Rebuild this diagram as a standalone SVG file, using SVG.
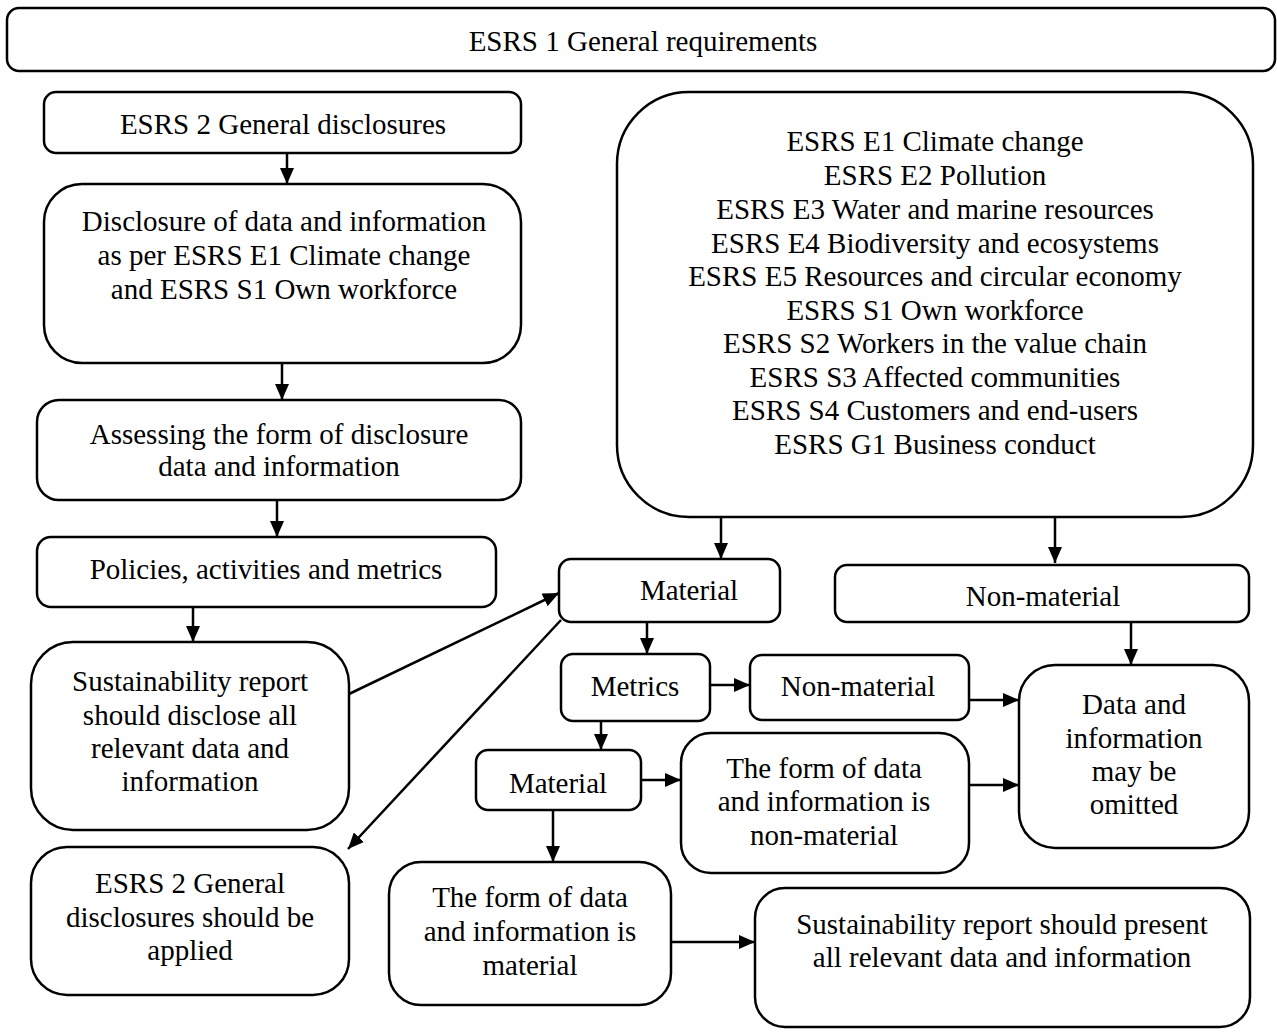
<svg xmlns="http://www.w3.org/2000/svg" width="1277" height="1035" viewBox="0 0 1277 1035">
<defs>
<marker id="ah" viewBox="0 0 16 14" refX="16" refY="7" markerWidth="16" markerHeight="14" markerUnits="userSpaceOnUse" orient="auto">
<path d="M0,0 L16,7 L0,14 Z" fill="#000"/>
</marker>
<style>
.b{fill:#fff;stroke:#000;stroke-width:2.5}
.t{font-size:29px;fill:#000;text-anchor:middle}
.c{stroke:#000;stroke-width:2.5;fill:none;marker-end:url(#ah)}
</style>
</defs>
<rect width="1277" height="1035" fill="#fff"/>
<g font-family="'Liberation Serif', 'Times New Roman', Tinos, 'DejaVu Serif', serif">
<g id="n_esrs1"><rect class="b" x="7" y="8" width="1268" height="63" rx="12"/><text class="t" x="643" y="51">ESRS 1 General requirements</text></g>
<g id="n_esrs2"><rect class="b" x="44" y="92" width="477" height="61" rx="12"/><text class="t" x="283" y="134">ESRS 2 General disclosures</text></g>
<g id="n_disc"><rect class="b" x="44" y="184" width="477" height="179" rx="38"/><text class="t" x="284" y="231">Disclosure of data and information</text><text class="t" x="284" y="265">as per ESRS E1 Climate change</text><text class="t" x="284" y="299">and ESRS S1 Own workforce</text></g>
<g id="n_assess"><rect class="b" x="37" y="400" width="484" height="100" rx="22"/><text class="t" x="279" y="444">Assessing the form of disclosure</text><text class="t" x="279" y="476">data and information</text></g>
<g id="n_policies"><rect class="b" x="37" y="537" width="459" height="70" rx="14"/><text class="t" x="266" y="579">Policies, activities and metrics</text></g>
<g id="n_sust"><rect class="b" x="31" y="642" width="318" height="188" rx="42"/><text class="t" x="190" y="691">Sustainability report</text><text class="t" x="190" y="725">should disclose all</text><text class="t" x="190" y="758">relevant data and</text><text class="t" x="190" y="791">information</text></g>
<g id="n_apply"><rect class="b" x="31" y="847" width="318" height="148" rx="36"/><text class="t" x="190" y="893">ESRS 2 General</text><text class="t" x="190" y="927">disclosures should be</text><text class="t" x="190" y="960">applied</text></g>
<g id="n_topics"><rect class="b" x="617" y="92" width="636" height="425" rx="72"/>
<text class="t" x="935" y="151">ESRS E1 Climate change</text>
<text class="t" x="935" y="185">ESRS E2 Pollution</text>
<text class="t" x="935" y="219">ESRS E3 Water and marine resources</text>
<text class="t" x="935" y="253">ESRS E4 Biodiversity and ecosystems</text>
<text class="t" x="935" y="286">ESRS E5 Resources and circular economy</text>
<text class="t" x="935" y="320">ESRS S1 Own workforce</text>
<text class="t" x="935" y="353">ESRS S2 Workers in the value chain</text>
<text class="t" x="935" y="387">ESRS S3 Affected communities</text>
<text class="t" x="935" y="420">ESRS S4 Customers and end-users</text>
<text class="t" x="935" y="454">ESRS G1 Business conduct</text></g>
<g id="n_material"><rect class="b" x="559" y="559" width="221" height="63" rx="12"/><text class="t" x="689" y="600">Material</text></g>
<g id="n_nonmat"><rect class="b" x="835" y="565" width="414" height="57" rx="12"/><text class="t" x="1043" y="606">Non-material</text></g>
<g id="n_omit"><rect class="b" x="1019" y="665" width="230" height="183" rx="36"/><text class="t" x="1134" y="714">Data and</text><text class="t" x="1134" y="748">information</text><text class="t" x="1134" y="781">may be</text><text class="t" x="1134" y="814">omitted</text></g>
<g id="n_metrics"><rect class="b" x="561" y="654" width="149" height="67" rx="12"/><text class="t" x="635" y="696">Metrics</text></g>
<g id="n_nonmat2"><rect class="b" x="750" y="655" width="219" height="65" rx="12"/><text class="t" x="858" y="696">Non-material</text></g>
<g id="n_material2"><rect class="b" x="476" y="750" width="165" height="60" rx="12"/><text class="t" x="558" y="793">Material</text></g>
<g id="n_formnon"><rect class="b" x="681" y="733" width="288" height="140" rx="30"/><text class="t" x="824" y="778">The form of data</text><text class="t" x="824" y="811">and information is</text><text class="t" x="824" y="845">non-material</text></g>
<g id="n_formmat"><rect class="b" x="389" y="862" width="282" height="143" rx="32"/><text class="t" x="530" y="907">The form of data</text><text class="t" x="530" y="941">and information is</text><text class="t" x="530" y="975">material</text></g>
<g id="n_present"><rect class="b" x="755" y="888" width="495" height="139" rx="30"/><text class="t" x="1002" y="934">Sustainability report should present</text><text class="t" x="1002" y="967">all relevant data and information</text></g>
</g>
<g id="connectors">
<line class="c" x1="287" y1="153" x2="287" y2="184"/>
<line class="c" x1="282" y1="363" x2="282" y2="400"/>
<line class="c" x1="277" y1="500" x2="277" y2="537"/>
<line class="c" x1="193" y1="607" x2="193" y2="642"/>
<line class="c" x1="721" y1="517" x2="721" y2="559"/>
<line class="c" x1="1055" y1="517" x2="1055" y2="563"/>
<line class="c" x1="1131" y1="622" x2="1131" y2="665"/>
<line class="c" x1="647" y1="622" x2="647" y2="654"/>
<line class="c" x1="710" y1="685" x2="750" y2="685"/>
<line class="c" x1="969" y1="700" x2="1019" y2="700"/>
<line class="c" x1="601" y1="721" x2="601" y2="750"/>
<line class="c" x1="641" y1="780" x2="681" y2="780"/>
<line class="c" x1="969" y1="785" x2="1019" y2="785"/>
<line class="c" x1="553" y1="810" x2="553" y2="862"/>
<line class="c" x1="671" y1="942" x2="755" y2="942"/>
<line class="c" x1="349" y1="694" x2="559" y2="593"/>
<line class="c" x1="561" y1="620" x2="348" y2="849"/>
</g>
</svg>
